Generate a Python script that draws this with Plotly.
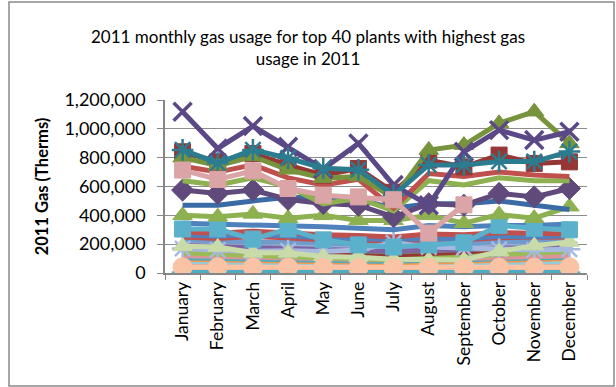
import plotly.graph_objects as go

# ---- data: monthly gas usage (therms), one list per plant ----
months = ["January", "February", "March", "April", "May", "June",
          "July", "August", "September", "October", "November", "December"]

plant_a = [1118000, 864000, 1019000, 875000, 722000, 899000, 610000, 470000, 841000, 991000, 922000, 980000]
plant_b = [841000, 771000, 829000, 748000, 679000, 725000, 560000, 783000, 736000, 818000, 760000, 771000]
plant_c = [800000, 745000, 808000, 716000, 658000, 669000, 520000, 853000, 887000, 1038000, 1119000, 899000]
plant_d = [854000, 762000, 854000, 797000, 727000, 716000, 540000, 750000, 750000, 773000, 773000, 842000]
plant_e = [740000, 700000, 750000, 660000, 610000, 650000, 450000, 690000, 670000, 700000, 680000, 670000]
plant_f = [640000, 610000, 660000, 600000, 480000, 520000, 430000, 640000, 610000, 660000, 640000, 640000]
plant_g = [575000, 552000, 575000, 510000, 482000, 470000, 390000, 480000, 470000, 552000, 528000, 586000]
plant_h = [470000, 470000, 500000, 525000, 520000, 510000, 450000, 480000, 480000, 500000, 470000, 440000]
plant_i = [400000, 390000, 410000, 380000, 400000, 365000, 365000, 400000, 345000, 405000, 380000, 460000]
plant_j = [345000, 340000, 330000, 330000, 320000, 310000, 300000, 330000, 320000, 330000, 330000, 340000]
plant_k = [305000, 305000, 235000, 305000, 230000, 195000, 180000, 195000, 210000, 330000, 310000, 300000]
plant_l = [285000, 275000, 290000, 275000, 265000, 260000, 250000, 270000, 265000, 280000, 275000, 270000]
plant_m = [250000, 240000, 255000, 240000, 230000, 230000, 215000, 235000, 230000, 245000, 245000, 250000]
plant_n = [230000, 220000, 215000, 215000, 205000, 200000, 195000, 205000, 200000, 220000, 215000, 225000]
plant_o = [265000, 255000, 270000, 255000, 245000, 240000, 230000, 240000, 235000, 255000, 250000, 260000]
plant_p = [185000, 180000, 140000, 140000, 115000, 110000, 95000, 90000, 90000, 150000, 190000, 215000]
plant_q = [170000, 160000, 150000, 155000, 150000, 160000, 210000, 180000, 175000, 165000, 160000, 165000]
plant_r = [190000, 180000, 175000, 170000, 165000, 160000, 150000, 160000, 160000, 175000, 170000, 180000]
plant_s = [140000, 130000, 120000, 110000, 105000, 100000, 90000, 100000, 110000, 130000, 140000, 150000]
plant_t = [120000, 115000, 110000, 105000, 100000, 95000, 90000, 95000, 100000, 110000, 115000, 120000]
plant_u = [105000, 100000, 100000, 95000, 90000, 85000, 80000, 90000, 90000, 100000, 105000, 110000]
plant_v = [95000, 90000, 85000, 80000, 80000, 75000, 70000, 75000, 80000, 90000, 95000, 100000]
plant_w = [80000, 75000, 75000, 70000, 70000, 65000, 62000, 65000, 68000, 75000, 80000, 80000]
plant_x = [60000, 58000, 55000, 52000, 50000, 48000, 45000, 48000, 50000, 55000, 58000, 60000]
plant_y = [40000, 40000, 38000, 38000, 36000, 35000, 35000, 35000, 35000, 36000, 38000, 40000]
plant_z = [12000, 12000, 10000, 10000, 8000, 8000, 8000, 8000, 8000, 10000, 12000, 12000]
plant_aa = [3000, 3000, 3000, 3000, 3000, 3000, 3000, 3000, 3000, 3000, 3000, 3000]
plant_ab = [714000, 649000, 709000, 586000, 540000, 528000, 508000, 277000, 473000, None, None, None]
plant_ac = [205000, 200000, 195000, 190000, 185000, 180000, 175000, 180000, 180000, 195000, 200000, 205000]
plant_ad = [185000, 180000, 170000, 165000, 160000, 155000, 145000, 155000, 160000, 175000, 180000, 190000]
plant_ae = [150000, 145000, 140000, 135000, 130000, 125000, 120000, 125000, 130000, 140000, 145000, 150000]
plant_af = [140000, 135000, 130000, 125000, 120000, 115000, 110000, 115000, 120000, 130000, 135000, 140000]
plant_ag = [115000, 110000, 108000, 102000, 98000, 95000, 90000, 95000, 98000, 108000, 112000, 115000]
plant_ah = [95000, 92000, 88000, 85000, 82000, 80000, 75000, 80000, 82000, 88000, 92000, 95000]
plant_ai = [88000, 85000, 82000, 78000, 75000, 72000, 70000, 72000, 75000, 82000, 85000, 88000]
plant_aj = [72000, 70000, 68000, 65000, 62000, 60000, 58000, 60000, 62000, 68000, 70000, 72000]
plant_ak = [56000, 54000, 52000, 50000, 48000, 46000, 44000, 46000, 48000, 52000, 54000, 56000]
plant_al = [50000, 48000, 46000, 44000, 42000, 40000, 40000, 40000, 42000, 46000, 48000, 50000]
plant_am = [46000, 45000, 44000, 42000, 40000, 38000, 38000, 38000, 40000, 44000, 45000, 46000]
plant_an = [25000, 24000, 22000, 20000, 18000, 18000, 16000, 18000, 18000, 20000, 22000, 24000]

y_ticks = [0, 200000, 400000, 600000, 800000, 1000000, 1200000]
y_tick_text = ["0", "200,000", "400,000", "600,000", "800,000", "1,000,000", "1,200,000"]

# ---- styling: (series, colour, marker symbol or None) in drawing order ----
series = [
    (plant_an, "#FCD5B5", None), (plant_am, "#B7DEE8", None), (plant_al, "#CCC1DA", None),
    (plant_ak, "#C3D69B", None), (plant_aj, "#C0504D", None), (plant_ai, "#4F81BD", None),
    (plant_ah, "#E46C0A", None), (plant_ag, "#31859C", None), (plant_af, "#B2A1C7", None),
    (plant_ae, "#953735", None), (plant_ad, "#76923C", None), (plant_ac, "#95B3D7", None),
    (plant_z, "#F59B6E", None), (plant_x, "#E6A57E", None), (plant_w, "#93CDDD", None),
    (plant_v, "#F79646", None), (plant_u, "#4BACC6", None), (plant_t, "#D99694", None),
    (plant_s, "#9BBB59", None), (plant_r, "#8064A2", None),
    (plant_n, "#729ACA", None), (plant_m, "#C0504D", None), (plant_o, "#4F81BD", None),
    (plant_l, "#C0504D", None), (plant_q, "#A7B9DE", "asterisk"), (plant_p, "#C9DBA8", "triangle"),
    (plant_j, "#4F81BD", None), (plant_k, "#5BB1CC", "square"), (plant_i, "#8DB050", "triangle"),
    (plant_h, "#3B6BA6", None), (plant_g, "#604A7B", "diamond"),
    (plant_f, "#8DB050", None), (plant_e, "#C0504D", None),
    (plant_b, "#953735", "square"), (plant_c, "#77933C", "triangle"),
    (plant_a, "#5B4886", "x"), (plant_d, "#2C7C90", "asterisk"),
    (plant_ab, "#DBA4A6", "square"), (plant_aa, "#4BACC6", "asterisk"), (plant_y, "#FAC3A5", "circle"),
]

marker_styles = {
    "diamond": dict(symbol="diamond", size=17),
    "square": dict(symbol="square", size=16),
    "triangle": dict(symbol="triangle-up", size=17),
    "circle": dict(symbol="circle", size=19),
    "x": dict(symbol="x-thin-open", size=18, lw=3.5),
    "asterisk": dict(symbol="asterisk-open", size=18, lw=2.5),
}

fig = go.Figure()
for idx, (values, color, marker) in enumerate(series):
    if marker is None:
        fig.add_trace(go.Scatter(x=months, y=values, mode="lines",
                                 line=dict(color=color, width=5), connectgaps=False,
                                 hoverinfo="skip", name=f"Plant {idx + 1}"))
    else:
        st = marker_styles[marker]
        fig.add_trace(go.Scatter(
            x=months, y=values, mode="lines+markers",
            line=dict(color=color, width=5),
            marker=dict(symbol=st["symbol"], size=st["size"], color=color,
                        line=dict(color=color, width=st.get("lw", 1))),
            hoverinfo="skip", name=f"Plant {idx + 1}"))

font_family = "Lato, 'Open Sans', sans-serif"

fig.update_layout(
    width=616, height=387,
    margin=dict(l=165, r=29, t=100, b=114),
    paper_bgcolor="white", plot_bgcolor="white",
    showlegend=False,
    font=dict(family=font_family, color="#000000"),
    title=dict(text="2011 monthly gas usage for top 40 plants with highest gas<br>usage in 2011",
               x=0.5, xanchor="center", xref="container", yref="container", y=0.888, yanchor="middle",
               font=dict(size=17, family=font_family, color="#000000")),
    xaxis=dict(
        type="category", categoryorder="array", categoryarray=months,
        range=[-0.5, 11.5],
        showline=True, linecolor="#868686", linewidth=1.5,
        ticks="outside", ticklen=5, tickcolor="#868686", tickson="boundaries",
        tickangle=-90, tickfont=dict(size=17.5, family=font_family),
        showgrid=False, zeroline=False,
    ),
    yaxis=dict(
        range=[0, 1200000],
        tickvals=y_ticks, ticktext=y_tick_text,
        showline=True, linecolor="#868686", linewidth=1.5,
        ticks="outside", ticklen=6, tickcolor="#868686",
        tickfont=dict(size=18, family=font_family),
        ticklabelstandoff=8,
        showgrid=True, gridcolor="#8C8C8C", gridwidth=1,
        zeroline=False,
        title=dict(text="<b>2011 Gas (Therms)</b>", font=dict(size=16.5, family=font_family), standoff=12),
    ),
    shapes=[dict(type="rect", xref="paper", yref="paper",
                 x0=(9 - 165) / 422, x1=(614 - 165) / 422,
                 y0=(273 - 386) / 173, y1=(273 - 2) / 173,
                 line=dict(color="#898989", width=1.5), fillcolor="rgba(0,0,0,0)", layer="below")],
)

fig.write_html("out.html")
